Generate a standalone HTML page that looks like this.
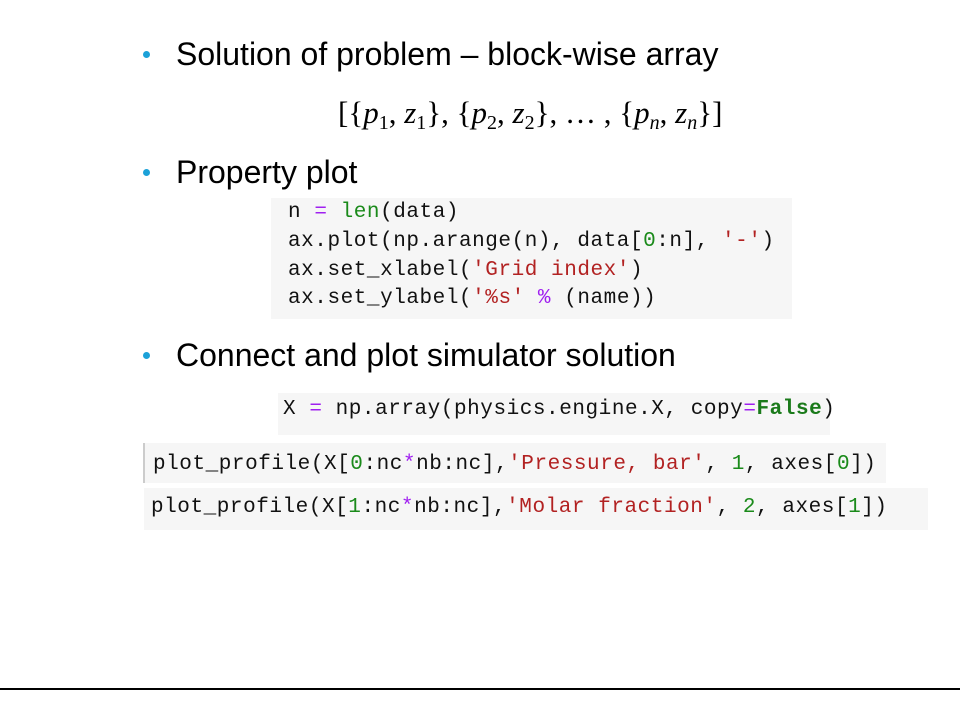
<!DOCTYPE html>
<html><head><meta charset="utf-8"><style>
body{margin:0;width:960px;height:720px;background:#fff;position:relative;overflow:hidden;font-family:"Liberation Sans",sans-serif}
.b{position:absolute;font-size:32px;color:#000;white-space:nowrap;line-height:1}
.dot{position:absolute;width:7px;height:7px;border-radius:50%;background:#1ba1d8}
.box{position:absolute;background:#f6f6f6}
.c{position:absolute;font-family:"Liberation Mono",monospace;font-size:21px;letter-spacing:0.55px;color:#111;white-space:nowrap;line-height:1}
.p{color:#a020f0}.g{color:#1a8a1a}.r{color:#b22222}.k{color:#1a7a1a;font-weight:bold}
.m{position:absolute;font-family:"Liberation Serif",serif;font-size:31px;white-space:nowrap;line-height:1}
.m i{font-style:italic}.m sub{font-size:20px;vertical-align:-6px}
</style></head><body>
<div class="dot" style="left:143px;top:51px"></div>
<div class="b" style="left:176px;top:38px">Solution of problem – block-wise array</div>
<div class="m" style="left:338px;top:97px">[{<i>p</i><sub>1</sub>, <i>z</i><sub>1</sub>}, {<i>p</i><sub>2</sub>, <i>z</i><sub>2</sub>}, … , {<i>p<sub>n</sub></i>, <i>z<sub>n</sub></i>}]</div>
<div class="dot" style="left:143px;top:169px"></div>
<div class="b" style="left:176px;top:156px">Property plot</div>
<div class="box" style="left:271px;top:198px;width:521px;height:121px"></div>
<div class="c" style="left:288px;top:202px">n <span class="p">=</span> <span class="g">len</span>(data)</div>
<div class="c" style="left:288px;top:231px">ax.plot(np.arange(n), data[<span class="g">0</span>:n], <span class="r">'-'</span>)</div>
<div class="c" style="left:288px;top:260px">ax.set_xlabel(<span class="r">'Grid index'</span>)</div>
<div class="c" style="left:288px;top:288px">ax.set_ylabel(<span class="r">'%s'</span> <span class="p">%</span> (name))</div>
<div class="dot" style="left:143px;top:352px"></div>
<div class="b" style="left:176px;top:339px">Connect and plot simulator solution</div>
<div class="box" style="left:278px;top:393px;width:552px;height:42px"></div>
<div class="c" style="left:283px;top:399px">X <span class="p">=</span> np.array(physics.engine.X, copy<span class="p">=</span><span class="k">False</span>)</div>
<div class="box" style="left:143px;top:443px;width:741px;height:40px;border-left:2px solid #ccc"></div>
<div class="c" style="left:153px;top:454px">plot_profile(X[<span class="g">0</span>:nc<span class="p">*</span>nb:nc],<span class="r">'Pressure, bar'</span>, <span class="g">1</span>, axes[<span class="g">0</span>])</div>
<div class="box" style="left:144px;top:488px;width:784px;height:42px"></div>
<div class="c" style="left:151px;top:497px">plot_profile(X[<span class="g">1</span>:nc<span class="p">*</span>nb:nc],<span class="r">'Molar fraction'</span>, <span class="g">2</span>, axes[<span class="g">1</span>])</div>
<div style="position:absolute;left:0;top:688px;width:960px;height:2px;background:#000"></div>
</body></html>
